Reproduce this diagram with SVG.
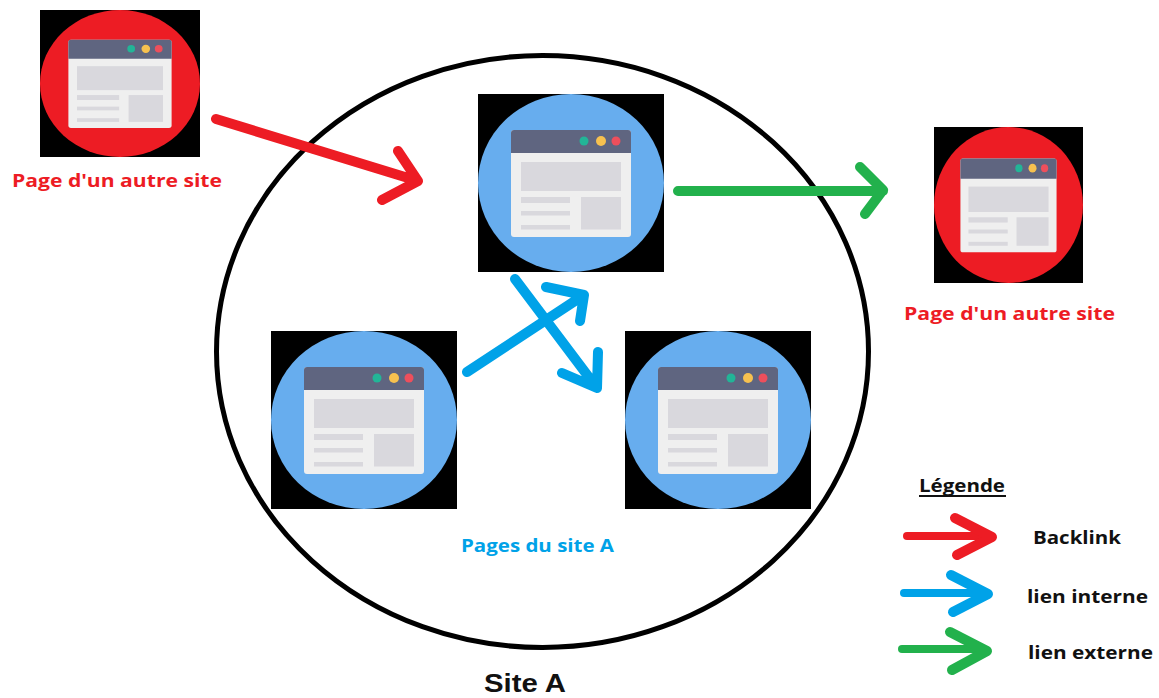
<svg xmlns="http://www.w3.org/2000/svg" width="1159" height="698" viewBox="0 0 1159 698">
<style>
.arrow{fill:none;stroke-width:10;stroke-linecap:round;stroke-linejoin:round}
.thin{stroke-width:8}
.r{stroke:#ed1c24}.b{stroke:#00a2e8}.g{stroke:#22b14c}
text{font-family:"Open Sans","Noto Sans","Liberation Sans",sans-serif;font-weight:700}
.lab{font-size:18px}.red{fill:#ed1c24}.blue{fill:#00a2e8}.blk{fill:#111}
</style>
<defs>
<symbol id="page" viewBox="0 0 186 178" width="186" height="178" preserveAspectRatio="none">
<rect width="186" height="178" fill="#000"/>
<ellipse cx="93" cy="89" rx="93" ry="89"/>
<rect x="33" y="36" width="120" height="107" rx="3" fill="#efefef"/>
<path d="M33 59V39a3 3 0 0 1 3-3H150a3 3 0 0 1 3 3V59Z" fill="#5f6580"/>
<rect x="43" y="68" width="100" height="29" fill="#d9d8dd"/>
<rect x="43" y="103" width="49" height="6" fill="#d9d8dd"/>
<rect x="43" y="117" width="49" height="4.500" fill="#d9d8dd"/>
<rect x="43" y="131" width="49" height="4.500" fill="#d9d8dd"/>
<rect x="103" y="103" width="40" height="32.500" fill="#d9d8dd"/>
<circle cx="106" cy="47" r="4.500" fill="#22b597"/>
<circle cx="123" cy="47" r="5" fill="#f7c14f"/>
<circle cx="138" cy="47" r="4.500" fill="#ee4f5c"/>
</symbol>
</defs>
<rect width="1159" height="698" fill="#fff"/>
<ellipse id="site-a" cx="542.500" cy="351.500" rx="326" ry="296" fill="none" stroke="#000" stroke-width="5"/>
<g id="page-external-1"><use href="#page" x="40" y="10" width="160" height="147" fill="#ed1c24"/></g>
<g id="page-external-2"><use href="#page" x="934" y="127" width="149" height="156" fill="#ed1c24"/></g>
<g id="page-a-top"><use href="#page" x="478" y="94" width="186" height="178" fill="#67adee"/></g>
<g id="page-a-left"><use href="#page" x="271" y="331" width="186" height="178" fill="#67adee"/></g>
<g id="page-a-right"><use href="#page" x="625" y="331" width="186" height="178" fill="#67adee"/></g>
<g id="connectors">
<path class="arrow r" d="M216 119L418 181M398 151L418 181L382 200"/>
<path class="arrow g" d="M678 191H883M860 167L883 190L865 214"/>
<path class="arrow b" d="M467 372L584 295M546 287L584 295L580 321"/>
<path class="arrow b" d="M515 279L597 388M598 352L597 388L562 373"/>
<path class="arrow thin r" d="M907 536H985"/><path class="arrow r" d="M955 518L992 537L957 555"/>
<path class="arrow thin b" d="M904 593H981"/><path class="arrow b" d="M951 575L988 594L953 612"/>
<path class="arrow thin g" d="M902 649H980"/><path class="arrow g" d="M950 632L987 651L952 670"/>
</g>
<g id="labels">
<text class="lab red" x="12" y="187" textLength="210" lengthAdjust="spacingAndGlyphs">Page d'un autre site</text>
<text class="lab red" x="904" y="320" textLength="211" lengthAdjust="spacingAndGlyphs">Page d'un autre site</text>
<text class="lab blue" x="461" y="552" textLength="153" lengthAdjust="spacingAndGlyphs">Pages du site A</text>
<text x="484" y="692" font-size="26" class="blk" style="font-family:'Liberation Sans',Arial,sans-serif" textLength="82" lengthAdjust="spacingAndGlyphs">Site A</text>
<text class="lab blk" x="919" y="492" textLength="86" lengthAdjust="spacingAndGlyphs">Légende</text>
<rect x="919" y="495" width="87" height="2" fill="#111"/>
<text class="lab blk" x="1033" y="544" textLength="88" lengthAdjust="spacingAndGlyphs">Backlink</text>
<text class="lab blk" x="1027" y="603" textLength="121" lengthAdjust="spacingAndGlyphs">lien interne</text>
<text class="lab blk" x="1028" y="659" textLength="125" lengthAdjust="spacingAndGlyphs">lien externe</text>
</g>
</svg>
